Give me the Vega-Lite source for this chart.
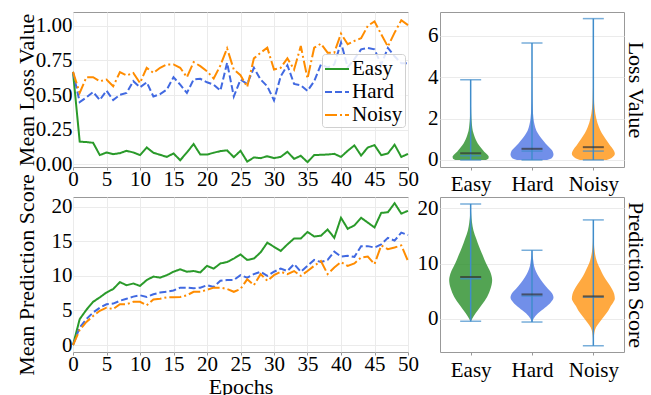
{
"$schema":"https://vega.github.io/schema/vega-lite/v6.json",
"background":"white",
"padding":{"left":14,"top":11,"right":0,"bottom":0},
"bounds":"flush",
"columns":2,
"align":"each",
"spacing":{"row":30,"column":32},
"config":{
"font":"'Liberation Serif', 'Times New Roman', Times, serif",
"view":{"stroke":"#999999","strokeWidth":1},
"axis":{"labelFont":"'Liberation Serif', 'Times New Roman', Times, serif","titleFont":"'Liberation Serif', 'Times New Roman', Times, serif","labelFontSize":21,"titleFontSize":22,"titleFontWeight":"normal","labelColor":"#000000","titleColor":"#000000","domain":false,"tickColor":"#999999","tickSize":3,"gridColor":"#ebebeb","gridWidth":1,"labelOverlap":false},
"legend":{"labelFont":"'Liberation Serif', 'Times New Roman', Times, serif","labelFontSize":21,"labelColor":"#000000","symbolType":"stroke","symbolSize":576,"symbolStrokeWidth":2,"labelOffset":2,"rowPadding":-6,"padding":2,"fillColor":"rgba(255,255,255,0.85)","strokeColor":"#d0d0d0","cornerRadius":3}
},
"datasets":{
"loss":[
{"e":0,"g":"Easy","v":0.667},{"e":1,"g":"Easy","v":0.163},{"e":2,"g":"Easy","v":0.160},{"e":3,"g":"Easy","v":0.155},{"e":4,"g":"Easy","v":0.066},{"e":5,"g":"Easy","v":0.085},{"e":6,"g":"Easy","v":0.073},{"e":7,"g":"Easy","v":0.080},{"e":8,"g":"Easy","v":0.097},{"e":9,"g":"Easy","v":0.085},{"e":10,"g":"Easy","v":0.066},{"e":11,"g":"Easy","v":0.121},{"e":12,"g":"Easy","v":0.083},{"e":13,"g":"Easy","v":0.068},{"e":14,"g":"Easy","v":0.053},{"e":15,"g":"Easy","v":0.078},{"e":16,"g":"Easy","v":0.029},{"e":17,"g":"Easy","v":0.085},{"e":18,"g":"Easy","v":0.146},{"e":19,"g":"Easy","v":0.070},{"e":20,"g":"Easy","v":0.070},{"e":21,"g":"Easy","v":0.083},{"e":22,"g":"Easy","v":0.095},{"e":23,"g":"Easy","v":0.100},{"e":24,"g":"Easy","v":0.051},{"e":25,"g":"Easy","v":0.097},{"e":26,"g":"Easy","v":0.019},{"e":27,"g":"Easy","v":0.049},{"e":28,"g":"Easy","v":0.044},{"e":29,"g":"Easy","v":0.058},{"e":30,"g":"Easy","v":0.044},{"e":31,"g":"Easy","v":0.053},{"e":32,"g":"Easy","v":0.090},{"e":33,"g":"Easy","v":0.039},{"e":34,"g":"Easy","v":0.061},{"e":35,"g":"Easy","v":0.015},{"e":36,"g":"Easy","v":0.066},{"e":37,"g":"Easy","v":0.068},{"e":38,"g":"Easy","v":0.070},{"e":39,"g":"Easy","v":0.075},{"e":40,"g":"Easy","v":0.053},{"e":41,"g":"Easy","v":0.097},{"e":42,"g":"Easy","v":0.136},{"e":43,"g":"Easy","v":0.063},{"e":44,"g":"Easy","v":0.121},{"e":45,"g":"Easy","v":0.138},{"e":46,"g":"Easy","v":0.066},{"e":47,"g":"Easy","v":0.078},{"e":48,"g":"Easy","v":0.141},{"e":49,"g":"Easy","v":0.053},{"e":50,"g":"Easy","v":0.075},
{"e":0,"g":"Hard","v":0.667},{"e":1,"g":"Hard","v":0.449},{"e":2,"g":"Hard","v":0.483},{"e":3,"g":"Hard","v":0.522},{"e":4,"g":"Hard","v":0.464},{"e":5,"g":"Hard","v":0.532},{"e":6,"g":"Hard","v":0.464},{"e":7,"g":"Hard","v":0.502},{"e":8,"g":"Hard","v":0.515},{"e":9,"g":"Hard","v":0.600},{"e":10,"g":"Hard","v":0.556},{"e":11,"g":"Hard","v":0.592},{"e":12,"g":"Hard","v":0.490},{"e":13,"g":"Hard","v":0.507},{"e":14,"g":"Hard","v":0.539},{"e":15,"g":"Hard","v":0.629},{"e":16,"g":"Hard","v":0.575},{"e":17,"g":"Hard","v":0.515},{"e":18,"g":"Hard","v":0.612},{"e":19,"g":"Hard","v":0.617},{"e":20,"g":"Hard","v":0.592},{"e":21,"g":"Hard","v":0.575},{"e":22,"g":"Hard","v":0.532},{"e":23,"g":"Hard","v":0.733},{"e":24,"g":"Hard","v":0.490},{"e":25,"g":"Hard","v":0.612},{"e":26,"g":"Hard","v":0.580},{"e":27,"g":"Hard","v":0.697},{"e":28,"g":"Hard","v":0.612},{"e":29,"g":"Hard","v":0.563},{"e":30,"g":"Hard","v":0.461},{"e":31,"g":"Hard","v":0.636},{"e":32,"g":"Hard","v":0.715},{"e":33,"g":"Hard","v":0.580},{"e":34,"g":"Hard","v":0.570},{"e":35,"g":"Hard","v":0.530},{"e":36,"g":"Hard","v":0.600},{"e":37,"g":"Hard","v":0.721},{"e":38,"g":"Hard","v":0.700},{"e":39,"g":"Hard","v":0.720},{"e":40,"g":"Hard","v":0.880},{"e":41,"g":"Hard","v":0.700},{"e":42,"g":"Hard","v":0.760},{"e":43,"g":"Hard","v":0.830},{"e":44,"g":"Hard","v":0.840},{"e":45,"g":"Hard","v":0.830},{"e":46,"g":"Hard","v":0.720},{"e":47,"g":"Hard","v":0.840},{"e":48,"g":"Hard","v":0.780},{"e":49,"g":"Hard","v":0.730},{"e":50,"g":"Hard","v":0.730},
{"e":0,"g":"Noisy","v":0.667},{"e":1,"g":"Noisy","v":0.515},{"e":2,"g":"Noisy","v":0.629},{"e":3,"g":"Noisy","v":0.629},{"e":4,"g":"Noisy","v":0.600},{"e":5,"g":"Noisy","v":0.612},{"e":6,"g":"Noisy","v":0.563},{"e":7,"g":"Noisy","v":0.665},{"e":8,"g":"Noisy","v":0.641},{"e":9,"g":"Noisy","v":0.660},{"e":10,"g":"Noisy","v":0.587},{"e":11,"g":"Noisy","v":0.697},{"e":12,"g":"Noisy","v":0.660},{"e":13,"g":"Noisy","v":0.697},{"e":14,"g":"Noisy","v":0.721},{"e":15,"g":"Noisy","v":0.721},{"e":16,"g":"Noisy","v":0.697},{"e":17,"g":"Noisy","v":0.629},{"e":18,"g":"Noisy","v":0.738},{"e":19,"g":"Noisy","v":0.709},{"e":20,"g":"Noisy","v":0.672},{"e":21,"g":"Noisy","v":0.619},{"e":22,"g":"Noisy","v":0.714},{"e":23,"g":"Noisy","v":0.837},{"e":24,"g":"Noisy","v":0.684},{"e":25,"g":"Noisy","v":0.643},{"e":26,"g":"Noisy","v":0.558},{"e":27,"g":"Noisy","v":0.765},{"e":28,"g":"Noisy","v":0.806},{"e":29,"g":"Noisy","v":0.842},{"e":30,"g":"Noisy","v":0.684},{"e":31,"g":"Noisy","v":0.697},{"e":32,"g":"Noisy","v":0.765},{"e":33,"g":"Noisy","v":0.684},{"e":34,"g":"Noisy","v":0.854},{"e":35,"g":"Noisy","v":0.619},{"e":36,"g":"Noisy","v":0.842},{"e":37,"g":"Noisy","v":0.871},{"e":38,"g":"Noisy","v":0.806},{"e":39,"g":"Noisy","v":0.806},{"e":40,"g":"Noisy","v":0.944},{"e":41,"g":"Noisy","v":0.867},{"e":42,"g":"Noisy","v":0.891},{"e":43,"g":"Noisy","v":0.910},{"e":44,"g":"Noisy","v":1.000},{"e":45,"g":"Noisy","v":1.032},{"e":46,"g":"Noisy","v":0.939},{"e":47,"g":"Noisy","v":0.850},{"e":48,"g":"Noisy","v":0.951},{"e":49,"g":"Noisy","v":1.040},{"e":50,"g":"Noisy","v":1.005}
],
"pred":[
{"e":0,"g":"Easy","v":0},{"e":1,"g":"Easy","v":3.75},{"e":2,"g":"Easy","v":5.1},{"e":3,"g":"Easy","v":6.25},{"e":4,"g":"Easy","v":6.9},{"e":5,"g":"Easy","v":7.6},{"e":6,"g":"Easy","v":8.1},{"e":7,"g":"Easy","v":9.1},{"e":8,"g":"Easy","v":8.65},{"e":9,"g":"Easy","v":8.9},{"e":10,"g":"Easy","v":8.55},{"e":11,"g":"Easy","v":9.4},{"e":12,"g":"Easy","v":9.9},{"e":13,"g":"Easy","v":9.75},{"e":14,"g":"Easy","v":10.1},{"e":15,"g":"Easy","v":10.6},{"e":16,"g":"Easy","v":10.95},{"e":17,"g":"Easy","v":10.6},{"e":18,"g":"Easy","v":10.7},{"e":19,"g":"Easy","v":10.5},{"e":20,"g":"Easy","v":11.45},{"e":21,"g":"Easy","v":11.05},{"e":22,"g":"Easy","v":11.8},{"e":23,"g":"Easy","v":12.0},{"e":24,"g":"Easy","v":12.5},{"e":25,"g":"Easy","v":13.1},{"e":26,"g":"Easy","v":12.3},{"e":27,"g":"Easy","v":12.5},{"e":28,"g":"Easy","v":13.4},{"e":29,"g":"Easy","v":14.8},{"e":30,"g":"Easy","v":14.2},{"e":31,"g":"Easy","v":13.6},{"e":32,"g":"Easy","v":14.55},{"e":33,"g":"Easy","v":15.4},{"e":34,"g":"Easy","v":15.4},{"e":35,"g":"Easy","v":16.35},{"e":36,"g":"Easy","v":15.7},{"e":37,"g":"Easy","v":15.8},{"e":38,"g":"Easy","v":16.7},{"e":39,"g":"Easy","v":15.5},{"e":40,"g":"Easy","v":18.4},{"e":41,"g":"Easy","v":16.8},{"e":42,"g":"Easy","v":17.3},{"e":43,"g":"Easy","v":18.4},{"e":44,"g":"Easy","v":17.7},{"e":45,"g":"Easy","v":17.0},{"e":46,"g":"Easy","v":19.1},{"e":47,"g":"Easy","v":19.2},{"e":48,"g":"Easy","v":20.5},{"e":49,"g":"Easy","v":19.0},{"e":50,"g":"Easy","v":19.4},
{"e":0,"g":"Hard","v":0},{"e":1,"g":"Hard","v":2.55},{"e":2,"g":"Hard","v":3.75},{"e":3,"g":"Hard","v":4.7},{"e":4,"g":"Hard","v":5.4},{"e":5,"g":"Hard","v":5.9},{"e":6,"g":"Hard","v":6.0},{"e":7,"g":"Hard","v":6.4},{"e":8,"g":"Hard","v":6.7},{"e":9,"g":"Hard","v":7.0},{"e":10,"g":"Hard","v":7.2},{"e":11,"g":"Hard","v":6.95},{"e":12,"g":"Hard","v":7.35},{"e":13,"g":"Hard","v":7.6},{"e":14,"g":"Hard","v":7.7},{"e":15,"g":"Hard","v":7.9},{"e":16,"g":"Hard","v":8.3},{"e":17,"g":"Hard","v":8.3},{"e":18,"g":"Hard","v":8.2},{"e":19,"g":"Hard","v":8.3},{"e":20,"g":"Hard","v":8.65},{"e":21,"g":"Hard","v":8.4},{"e":22,"g":"Hard","v":9.3},{"e":23,"g":"Hard","v":9.4},{"e":24,"g":"Hard","v":9.4},{"e":25,"g":"Hard","v":10.1},{"e":26,"g":"Hard","v":9.75},{"e":27,"g":"Hard","v":10.25},{"e":28,"g":"Hard","v":10.6},{"e":29,"g":"Hard","v":10.0},{"e":30,"g":"Hard","v":10.6},{"e":31,"g":"Hard","v":11.05},{"e":32,"g":"Hard","v":10.7},{"e":33,"g":"Hard","v":11.7},{"e":34,"g":"Hard","v":10.6},{"e":35,"g":"Hard","v":11.45},{"e":36,"g":"Hard","v":12.3},{"e":37,"g":"Hard","v":12.0},{"e":38,"g":"Hard","v":12.3},{"e":39,"g":"Hard","v":13.5},{"e":40,"g":"Hard","v":12.8},{"e":41,"g":"Hard","v":12.9},{"e":42,"g":"Hard","v":12.75},{"e":43,"g":"Hard","v":14.3},{"e":44,"g":"Hard","v":14.3},{"e":45,"g":"Hard","v":14.1},{"e":46,"g":"Hard","v":14.55},{"e":47,"g":"Hard","v":15.5},{"e":48,"g":"Hard","v":15.1},{"e":49,"g":"Hard","v":16.25},{"e":50,"g":"Hard","v":15.9},
{"e":0,"g":"Noisy","v":0},{"e":1,"g":"Noisy","v":2.2},{"e":2,"g":"Noisy","v":3.35},{"e":3,"g":"Noisy","v":4.2},{"e":4,"g":"Noisy","v":4.95},{"e":5,"g":"Noisy","v":5.4},{"e":6,"g":"Noisy","v":5.2},{"e":7,"g":"Noisy","v":5.9},{"e":8,"g":"Noisy","v":5.9},{"e":9,"g":"Noisy","v":6.25},{"e":10,"g":"Noisy","v":6.25},{"e":11,"g":"Noisy","v":5.75},{"e":12,"g":"Noisy","v":6.6},{"e":13,"g":"Noisy","v":6.7},{"e":14,"g":"Noisy","v":6.9},{"e":15,"g":"Noisy","v":6.9},{"e":16,"g":"Noisy","v":6.95},{"e":17,"g":"Noisy","v":7.2},{"e":18,"g":"Noisy","v":7.7},{"e":19,"g":"Noisy","v":7.7},{"e":20,"g":"Noisy","v":8.0},{"e":21,"g":"Noisy","v":8.3},{"e":22,"g":"Noisy","v":8.3},{"e":23,"g":"Noisy","v":8.1},{"e":24,"g":"Noisy","v":7.7},{"e":25,"g":"Noisy","v":8.1},{"e":26,"g":"Noisy","v":9.5},{"e":27,"g":"Noisy","v":8.65},{"e":28,"g":"Noisy","v":10.25},{"e":29,"g":"Noisy","v":9.3},{"e":30,"g":"Noisy","v":10.1},{"e":31,"g":"Noisy","v":10.6},{"e":32,"g":"Noisy","v":10.25},{"e":33,"g":"Noisy","v":10.7},{"e":34,"g":"Noisy","v":10.0},{"e":35,"g":"Noisy","v":10.7},{"e":36,"g":"Noisy","v":11.45},{"e":37,"g":"Noisy","v":12.15},{"e":38,"g":"Noisy","v":10.25},{"e":39,"g":"Noisy","v":11.2},{"e":40,"g":"Noisy","v":12.0},{"e":41,"g":"Noisy","v":11.45},{"e":42,"g":"Noisy","v":11.8},{"e":43,"g":"Noisy","v":12.65},{"e":44,"g":"Noisy","v":12.8},{"e":45,"g":"Noisy","v":11.7},{"e":46,"g":"Noisy","v":14.4},{"e":47,"g":"Noisy","v":13.85},{"e":48,"g":"Noisy","v":14.1},{"e":49,"g":"Noisy","v":14.4},{"e":50,"g":"Noisy","v":12.15}
],
"vio":[
{"c":"loss","g":"Easy","y":0.0,"d":0.70},{"c":"loss","g":"Easy","y":0.06,"d":0.82},{"c":"loss","g":"Easy","y":0.15,"d":0.84},{"c":"loss","g":"Easy","y":0.25,"d":0.78},{"c":"loss","g":"Easy","y":0.4,"d":0.63},{"c":"loss","g":"Easy","y":0.6,"d":0.47},{"c":"loss","g":"Easy","y":0.8,"d":0.33},{"c":"loss","g":"Easy","y":1.0,"d":0.23},{"c":"loss","g":"Easy","y":1.2,"d":0.16},{"c":"loss","g":"Easy","y":1.4,"d":0.10},{"c":"loss","g":"Easy","y":1.7,"d":0.06},{"c":"loss","g":"Easy","y":2.0,"d":0.035},{"c":"loss","g":"Easy","y":2.5,"d":0.018},{"c":"loss","g":"Easy","y":3.0,"d":0.01},{"c":"loss","g":"Easy","y":3.88,"d":0.003},
{"c":"loss","g":"Hard","y":0.0,"d":0.70},{"c":"loss","g":"Hard","y":0.1,"d":0.93},{"c":"loss","g":"Hard","y":0.25,"d":1.0},{"c":"loss","g":"Hard","y":0.4,"d":0.97},{"c":"loss","g":"Hard","y":0.6,"d":0.81},{"c":"loss","g":"Hard","y":0.8,"d":0.63},{"c":"loss","g":"Hard","y":1.0,"d":0.47},{"c":"loss","g":"Hard","y":1.2,"d":0.33},{"c":"loss","g":"Hard","y":1.4,"d":0.21},{"c":"loss","g":"Hard","y":1.7,"d":0.12},{"c":"loss","g":"Hard","y":2.0,"d":0.07},{"c":"loss","g":"Hard","y":2.5,"d":0.035},{"c":"loss","g":"Hard","y":3.0,"d":0.018},{"c":"loss","g":"Hard","y":4.0,"d":0.007},{"c":"loss","g":"Hard","y":5.0,"d":0.003},{"c":"loss","g":"Hard","y":5.66,"d":0.002},
{"c":"loss","g":"Noisy","y":0.0,"d":0.62},{"c":"loss","g":"Noisy","y":0.1,"d":0.85},{"c":"loss","g":"Noisy","y":0.3,"d":1.0},{"c":"loss","g":"Noisy","y":0.5,"d":0.93},{"c":"loss","g":"Noisy","y":0.7,"d":0.78},{"c":"loss","g":"Noisy","y":1.0,"d":0.58},{"c":"loss","g":"Noisy","y":1.3,"d":0.39},{"c":"loss","g":"Noisy","y":1.6,"d":0.26},{"c":"loss","g":"Noisy","y":2.0,"d":0.14},{"c":"loss","g":"Noisy","y":2.5,"d":0.06},{"c":"loss","g":"Noisy","y":3.0,"d":0.028},{"c":"loss","g":"Noisy","y":4.0,"d":0.011},{"c":"loss","g":"Noisy","y":5.0,"d":0.005},{"c":"loss","g":"Noisy","y":6.84,"d":0.002},
{"c":"pred","g":"Easy","y":-0.48,"d":0.01},{"c":"pred","g":"Easy","y":0.0,"d":0.07},{"c":"pred","g":"Easy","y":1.0,"d":0.23},{"c":"pred","g":"Easy","y":2.5,"d":0.51},{"c":"pred","g":"Easy","y":4.0,"d":0.77},{"c":"pred","g":"Easy","y":5.5,"d":0.93},{"c":"pred","g":"Easy","y":7.0,"d":1.0},{"c":"pred","g":"Easy","y":8.5,"d":0.91},{"c":"pred","g":"Easy","y":10.0,"d":0.72},{"c":"pred","g":"Easy","y":11.5,"d":0.56},{"c":"pred","g":"Easy","y":13.0,"d":0.40},{"c":"pred","g":"Easy","y":14.5,"d":0.26},{"c":"pred","g":"Easy","y":16.0,"d":0.13},{"c":"pred","g":"Easy","y":17.5,"d":0.06},{"c":"pred","g":"Easy","y":19.0,"d":0.023},{"c":"pred","g":"Easy","y":20.8,"d":0.007},
{"c":"pred","g":"Hard","y":-0.6,"d":0.01},{"c":"pred","g":"Hard","y":0.0,"d":0.07},{"c":"pred","g":"Hard","y":1.0,"d":0.28},{"c":"pred","g":"Hard","y":2.0,"d":0.60},{"c":"pred","g":"Hard","y":3.0,"d":0.88},{"c":"pred","g":"Hard","y":3.8,"d":1.0},{"c":"pred","g":"Hard","y":4.6,"d":0.93},{"c":"pred","g":"Hard","y":5.5,"d":0.72},{"c":"pred","g":"Hard","y":6.5,"d":0.51},{"c":"pred","g":"Hard","y":7.5,"d":0.33},{"c":"pred","g":"Hard","y":8.5,"d":0.19},{"c":"pred","g":"Hard","y":9.5,"d":0.10},{"c":"pred","g":"Hard","y":10.5,"d":0.06},{"c":"pred","g":"Hard","y":11.5,"d":0.023},{"c":"pred","g":"Hard","y":12.4,"d":0.009},
{"c":"pred","g":"Noisy","y":-4.9,"d":0.005},{"c":"pred","g":"Noisy","y":-3.5,"d":0.02},{"c":"pred","g":"Noisy","y":-2.5,"d":0.05},{"c":"pred","g":"Noisy","y":-1.6,"d":0.12},{"c":"pred","g":"Noisy","y":-0.7,"d":0.28},{"c":"pred","g":"Noisy","y":0.5,"d":0.51},{"c":"pred","g":"Noisy","y":1.5,"d":0.70},{"c":"pred","g":"Noisy","y":2.3,"d":0.81},{"c":"pred","g":"Noisy","y":3.0,"d":0.93},{"c":"pred","g":"Noisy","y":3.6,"d":1.0},{"c":"pred","g":"Noisy","y":4.5,"d":0.97},{"c":"pred","g":"Noisy","y":5.3,"d":0.88},{"c":"pred","g":"Noisy","y":6.2,"d":0.74},{"c":"pred","g":"Noisy","y":7.1,"d":0.58},{"c":"pred","g":"Noisy","y":8.0,"d":0.44},{"c":"pred","g":"Noisy","y":8.9,"d":0.33},{"c":"pred","g":"Noisy","y":10.1,"d":0.19},{"c":"pred","g":"Noisy","y":11.0,"d":0.12},{"c":"pred","g":"Noisy","y":12.0,"d":0.07},{"c":"pred","g":"Noisy","y":13.8,"d":0.023},{"c":"pred","g":"Noisy","y":15.5,"d":0.012},{"c":"pred","g":"Noisy","y":17.9,"d":0.005}
],
"stats":[
{"c":"loss","g":"Easy","min":0.0,"max":3.88,"mean":0.32,"med":0.21},
{"c":"loss","g":"Hard","min":0.0,"max":5.66,"mean":0.54,"med":0.43},
{"c":"loss","g":"Noisy","min":0.0,"max":6.84,"mean":0.62,"med":0.43},
{"c":"pred","g":"Easy","min":-0.48,"max":20.8,"mean":7.55,"med":7.25},
{"c":"pred","g":"Hard","min":-0.6,"max":12.4,"mean":4.4,"med":4.1},
{"c":"pred","g":"Noisy","min":-4.9,"max":17.9,"mean":4.05,"med":3.9}
]
},
"concat":[
{
"width":335,"height":155,
"data":{"name":"loss"},
"mark":{"type":"line","strokeWidth":2},
"encoding":{
"x":{"field":"e","type":"quantitative","scale":{"domain":[0,50],"nice":false},"axis":{"values":[0,5,10,15,20,25,30,35,40,45,50],"title":null,"grid":true,"labelFlush":false,"labelPadding":-2}},
"y":{"field":"v","type":"quantitative","scale":{"domain":[-0.02,1.1],"nice":false,"zero":false},"axis":{"values":[0,0.25,0.5,0.75,1],"format":".2f","title":"Mean Loss Value","grid":true,"ticks":false,"labelPadding":1,"titleX":-40,"titleBaseline":"alphabetic"}},
"color":{"field":"g","type":"nominal","scale":{"domain":["Easy","Hard","Noisy"],"range":["#2a9a2a","#4169e1","#ff8c00"]},"legend":{"title":null,"orient":"none","legendX":249,"legendY":42}},
"strokeDash":{"field":"g","type":"nominal","scale":{"domain":["Easy","Hard","Noisy"],"range":[[1,0],[7,3],[12,3,2,3]]},"legend":{"title":null,"orient":"none","legendX":249,"legendY":42}}
}
},
{
"width":184,"height":155,
"layer":[
{"data":{"name":"vio"},"transform":[{"filter":"datum.c=='loss'&&datum.g=='Easy'"}],"mark":{"type":"area","orient":"horizontal","interpolate":"monotone","color":"#228b22","opacity":0.78},"encoding":{"y":{"field":"y","type":"quantitative","scale":{"domain":[-0.34,7.16],"nice":false,"zero":false},"axis":null},"x":{"field":"d","type":"quantitative","stack":"center","impute":null,"scale":{"domain":[-0.293,3.986],"nice":false,"zero":false},"axis":null}}},
{"data":{"name":"vio"},"transform":[{"filter":"datum.c=='loss'&&datum.g=='Hard'"}],"mark":{"type":"area","orient":"horizontal","interpolate":"monotone","color":"#4169e1","opacity":0.75},"encoding":{"y":{"field":"y","type":"quantitative","scale":{"domain":[-0.34,7.16],"nice":false,"zero":false},"axis":null},"x":{"field":"d","type":"quantitative","stack":"center","impute":null,"scale":{"domain":[-1.64,2.64],"nice":false,"zero":false},"axis":null}}},
{"data":{"name":"vio"},"transform":[{"filter":"datum.c=='loss'&&datum.g=='Noisy'"}],"mark":{"type":"area","orient":"horizontal","interpolate":"monotone","color":"#ff8c00","opacity":0.75},"encoding":{"y":{"field":"y","type":"quantitative","scale":{"domain":[-0.34,7.16],"nice":false,"zero":false},"axis":null},"x":{"field":"d","type":"quantitative","stack":"center","impute":null,"scale":{"domain":[-3.066,1.213],"nice":false,"zero":false},"axis":null}}},
{"data":{"name":"stats"},"transform":[{"filter":"datum.c=='loss'"}],"mark":{"type":"rule","color":"#3f8ccb","strokeWidth":1.5},"encoding":{"x":{"field":"g","type":"nominal","sort":["Easy","Hard","Noisy"],"scale":{"type":"point","padding":0.5},"axis":{"title":null,"labelAngle":0,"labelPadding":3}},"y":{"field":"min","type":"quantitative","scale":{"domain":[-0.34,7.16],"nice":false,"zero":false},"axis":{"title":null,"values":[0,2,4,6],"grid":true,"ticks":false,"labelPadding":2}},"y2":{"field":"max"}}},
{"data":{"name":"stats"},"transform":[{"filter":"datum.c=='loss'"}],"mark":{"type":"tick","color":"#3f8ccb","size":21,"thickness":1.5},"encoding":{"x":{"field":"g","type":"nominal","sort":["Easy","Hard","Noisy"],"scale":{"type":"point","padding":0.5},"axis":null},"y":{"field":"min","type":"quantitative","scale":{"domain":[-0.34,7.16],"nice":false,"zero":false},"axis":null}}},
{"data":{"name":"stats"},"transform":[{"filter":"datum.c=='loss'"}],"mark":{"type":"tick","color":"#3f8ccb","size":21,"thickness":1.5},"encoding":{"x":{"field":"g","type":"nominal","sort":["Easy","Hard","Noisy"],"scale":{"type":"point","padding":0.5},"axis":null},"y":{"field":"max","type":"quantitative","scale":{"domain":[-0.34,7.16],"nice":false,"zero":false},"axis":null}}},
{"data":{"name":"stats"},"transform":[{"filter":"datum.c=='loss'"}],"mark":{"type":"tick","color":"#3f8ccb","size":21,"thickness":1.5},"encoding":{"x":{"field":"g","type":"nominal","sort":["Easy","Hard","Noisy"],"scale":{"type":"point","padding":0.5},"axis":null},"y":{"field":"med","type":"quantitative","scale":{"domain":[-0.34,7.16],"nice":false,"zero":false},"axis":null}}},
{"data":{"name":"stats"},"transform":[{"filter":"datum.c=='loss'"}],"mark":{"type":"tick","color":"#333333","size":21,"thickness":2},"encoding":{"x":{"field":"g","type":"nominal","sort":["Easy","Hard","Noisy"],"scale":{"type":"point","padding":0.5},"axis":null},"y":{"field":"mean","type":"quantitative","scale":{"domain":[-0.34,7.16],"nice":false,"zero":false},"axis":{"orient":"right","title":"Loss Value","labels":false,"ticks":false,"grid":false,"titleX":4,"titleBaseline":"alphabetic"}}}}
],
"resolve":{"scale":{"x":"independent"},"axis":{"y":"independent"}}
},
{
"width":335,"height":155,
"data":{"name":"pred"},
"mark":{"type":"line","strokeWidth":2},
"encoding":{
"x":{"field":"e","type":"quantitative","scale":{"domain":[0,50],"nice":false},"axis":{"values":[0,5,10,15,20,25,30,35,40,45,50],"title":"Epochs","grid":true,"labelFlush":false,"labelPadding":-2,"titleY":24,"titleBaseline":"top"}},
"y":{"field":"v","type":"quantitative","scale":{"domain":[-1,21.4],"nice":false,"zero":false},"axis":{"values":[0,5,10,15,20],"title":"Mean Prediction Score","grid":true,"ticks":false,"labelPadding":1,"titleX":-40,"titleBaseline":"alphabetic"}},
"color":{"field":"g","type":"nominal","scale":{"domain":["Easy","Hard","Noisy"],"range":["#2a9a2a","#4169e1","#ff8c00"]},"legend":{"title":null,"orient":"none","legendX":7,"legendY":2}},
"strokeDash":{"field":"g","type":"nominal","scale":{"domain":["Easy","Hard","Noisy"],"range":[[1,0],[7,3],[12,3,2,3]]},"legend":{"title":null,"orient":"none","legendX":7,"legendY":2}}
}
},
{
"width":184,"height":155,
"layer":[
{"data":{"name":"vio"},"transform":[{"filter":"datum.c=='pred'&&datum.g=='Easy'"}],"mark":{"type":"area","orient":"horizontal","interpolate":"monotone","color":"#228b22","opacity":0.78},"encoding":{"y":{"field":"y","type":"quantitative","scale":{"domain":[-6.03,22.05],"nice":false,"zero":false},"axis":null},"x":{"field":"d","type":"quantitative","stack":"center","impute":null,"scale":{"domain":[-0.213,4.066],"nice":false,"zero":false},"axis":null}}},
{"data":{"name":"vio"},"transform":[{"filter":"datum.c=='pred'&&datum.g=='Hard'"}],"mark":{"type":"area","orient":"horizontal","interpolate":"monotone","color":"#4169e1","opacity":0.75},"encoding":{"y":{"field":"y","type":"quantitative","scale":{"domain":[-6.03,22.05],"nice":false,"zero":false},"axis":null},"x":{"field":"d","type":"quantitative","stack":"center","impute":null,"scale":{"domain":[-1.64,2.64],"nice":false,"zero":false},"axis":null}}},
{"data":{"name":"vio"},"transform":[{"filter":"datum.c=='pred'&&datum.g=='Noisy'"}],"mark":{"type":"area","orient":"horizontal","interpolate":"monotone","color":"#ff8c00","opacity":0.75},"encoding":{"y":{"field":"y","type":"quantitative","scale":{"domain":[-6.03,22.05],"nice":false,"zero":false},"axis":null},"x":{"field":"d","type":"quantitative","stack":"center","impute":null,"scale":{"domain":[-3.066,1.213],"nice":false,"zero":false},"axis":null}}},
{"data":{"name":"stats"},"transform":[{"filter":"datum.c=='pred'"}],"mark":{"type":"rule","color":"#3f8ccb","strokeWidth":1.5},"encoding":{"x":{"field":"g","type":"nominal","sort":["Easy","Hard","Noisy"],"scale":{"type":"point","padding":0.5},"axis":{"title":null,"labelAngle":0,"labelPadding":4}},"y":{"field":"min","type":"quantitative","scale":{"domain":[-6.03,22.05],"nice":false,"zero":false},"axis":{"title":null,"values":[0,10,20],"grid":true,"ticks":false,"labelPadding":2}},"y2":{"field":"max"}}},
{"data":{"name":"stats"},"transform":[{"filter":"datum.c=='pred'"}],"mark":{"type":"tick","color":"#3f8ccb","size":21,"thickness":1.5},"encoding":{"x":{"field":"g","type":"nominal","sort":["Easy","Hard","Noisy"],"scale":{"type":"point","padding":0.5},"axis":null},"y":{"field":"min","type":"quantitative","scale":{"domain":[-6.03,22.05],"nice":false,"zero":false},"axis":null}}},
{"data":{"name":"stats"},"transform":[{"filter":"datum.c=='pred'"}],"mark":{"type":"tick","color":"#3f8ccb","size":21,"thickness":1.5},"encoding":{"x":{"field":"g","type":"nominal","sort":["Easy","Hard","Noisy"],"scale":{"type":"point","padding":0.5},"axis":null},"y":{"field":"max","type":"quantitative","scale":{"domain":[-6.03,22.05],"nice":false,"zero":false},"axis":null}}},
{"data":{"name":"stats"},"transform":[{"filter":"datum.c=='pred'"}],"mark":{"type":"tick","color":"#3f8ccb","size":21,"thickness":1.5},"encoding":{"x":{"field":"g","type":"nominal","sort":["Easy","Hard","Noisy"],"scale":{"type":"point","padding":0.5},"axis":null},"y":{"field":"med","type":"quantitative","scale":{"domain":[-6.03,22.05],"nice":false,"zero":false},"axis":null}}},
{"data":{"name":"stats"},"transform":[{"filter":"datum.c=='pred'"}],"mark":{"type":"tick","color":"#333333","size":21,"thickness":2},"encoding":{"x":{"field":"g","type":"nominal","sort":["Easy","Hard","Noisy"],"scale":{"type":"point","padding":0.5},"axis":null},"y":{"field":"mean","type":"quantitative","scale":{"domain":[-6.03,22.05],"nice":false,"zero":false},"axis":{"orient":"right","title":"Prediction Score","labels":false,"ticks":false,"grid":false,"titleX":4,"titleBaseline":"alphabetic"}}}}
],
"resolve":{"scale":{"x":"independent"},"axis":{"y":"independent"}}
}
]
}
